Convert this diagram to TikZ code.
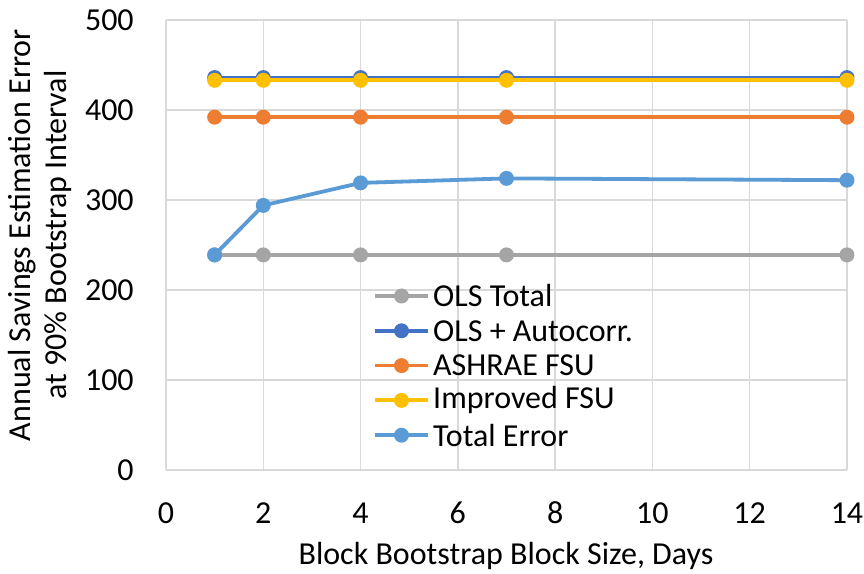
\documentclass[tikz,border=0pt]{standalone}
\usepackage{fontspec}
\setmainfont{Carlito}
\usetikzlibrary{calc}
\definecolor{gridc}{HTML}{D9D9D9}
\definecolor{olsc}{HTML}{A5A5A5}
\definecolor{autoc}{HTML}{4472C4}
\definecolor{ashc}{HTML}{ED7D31}
\definecolor{impc}{HTML}{FFC000}
\definecolor{totc}{HTML}{5B9BD5}
\begin{document}
\begin{tikzpicture}[x=1pt,y=1pt,
  gridline/.style={draw=gridc,line width=1.5pt},
  series/.style={line width=3.8pt,line join=round},
  ticklbl/.style={font=\fontsize{32}{36}\selectfont,inner sep=0pt},
  axtitle/.style={font=\fontsize{32}{36}\selectfont,inner sep=0pt,align=center},
  legtext/.style={font=\fontsize{32}{36}\selectfont,inner sep=0pt,anchor=west}]
\useasboundingbox (0,0) rectangle (864,573);
\fill[white] (0,0) rectangle (864,573);
\begin{scope}[shift={(166,103)},x=48.64pt,y=0.9pt]
  % grid
  \foreach \gx in {0,2,...,14} \draw[gridline] (\gx,0) -- (\gx,500);
  \foreach \gy in {0,100,...,500} \draw[gridline] (0,\gy) -- (14,\gy);
  % tick labels
  \foreach \gx in {0,2,...,14} \node[ticklbl,anchor=center] (xt\gx) at (\gx,-47.5) {\gx};
  \foreach \gy in {0,100,...,500} \node[ticklbl,anchor=east] (yt\gy) at (-0.66,\gy) {\gy};
  % series
  \foreach \s/\c/\ya/\yb/\yc/\yd/\ye in {
      ols/olsc/239/239/239/239/239,
      aut/autoc/436/436/436/436/436,
      ash/ashc/392/392/392/392/392,
      imp/impc/433/433/433/433/433,
      tot/totc/239/294/319/324/322}{
    \coordinate (\s1) at (1,\ya);
    \coordinate (\s2) at (2,\yb);
    \coordinate (\s4) at (4,\yc);
    \coordinate (\s7) at (7,\yd);
    \coordinate (\s14) at (14,\ye);
    \draw[series,draw=\c] (\s1) -- (\s2) -- (\s4) -- (\s7) -- (\s14);
    \foreach \k in {1,2,4,7,14} \fill[\c] (\s\k) circle[radius=7.5pt];
  }
\end{scope}
% legend
\foreach \i/\c/\t in {0/olsc/OLS Total,1/autoc/OLS + Autocorr.,2/ashc/ASHRAE FSU,3/impc/Improved FSU,4/totc/Total Error}{
  \coordinate (la\i) at (375,{573-296-34.8*\i});
  \coordinate (lb\i) at (428,{573-296-34.8*\i});
  \draw[series,draw=\c] (la\i) -- (lb\i);
  \fill[\c] ($(la\i)!0.5!(lb\i)$) circle[radius=7.5pt];
  \node[legtext] (lt\i) at (433,{573-296-34.8*\i}) {\t};
}
% axis titles
\node[axtitle] (xtitle) at (506,17) {Block Bootstrap Block Size, Days};
\node[axtitle,rotate=90,font=\fontsize{32}{36}\selectfont] (ytitle) at (40,338) {Annual Savings Estimation Error\\at 90\% Bootstrap Interval};
\end{tikzpicture}
\end{document}
